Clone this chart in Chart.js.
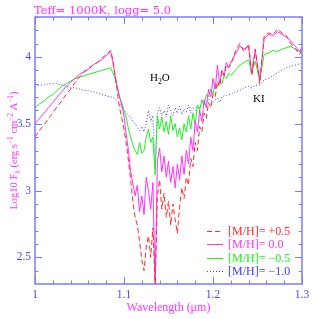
<!DOCTYPE html>
<html>
<head>
<meta charset="utf-8">
<script src="https://cdn.jsdelivr.net/npm/chart.js@4.4.0/dist/chart.umd.min.js"></script>
<style>
  html, body { margin: 0; padding: 0; background: #fff; }
  canvas { display: block; }
</style>
</head>
<body>
<canvas id="myChart" width="319" height="319"></canvas>
<script>
// wavelength grid (micron)
var wave = [
  1.000, 1.005, 1.010, 1.015, 1.020, 1.025, 1.030, 1.035, 1.040, 1.045, 1.050, 1.055, 1.060, 1.065, 1.070, 1.075, 1.080, 1.085,
  1.0875, 1.0900, 1.0925, 1.0950, 1.0975, 1.1000, 1.1025, 1.1050, 1.1075, 1.1100, 1.1125, 1.1150, 1.1175, 1.1200, 1.1225, 1.1250, 1.1275, 1.1300, 1.1325, 1.1350,
  1.1375, 1.1400, 1.1425, 1.1450, 1.1475, 1.1500, 1.1525, 1.1550, 1.1575, 1.1600, 1.1625, 1.1650, 1.1675, 1.1700, 1.1725, 1.1750, 1.1775, 1.1800, 1.1825, 1.1850,
  1.1875, 1.1900, 1.1925, 1.1950, 1.1975, 1.2000, 1.2025, 1.2050, 1.2075, 1.2100, 1.2125, 1.2150, 1.2175,
  1.220, 1.225, 1.230, 1.235, 1.240, 1.2435, 1.2475, 1.2525, 1.2575, 1.2625, 1.2675, 1.2725, 1.2775, 1.2825, 1.2875, 1.2925, 1.2975, 1.300
];

// log10 flux for each metallicity
var fluxP05 = [
  3.40, 3.45, 3.49, 3.54, 3.58, 3.63, 3.67, 3.72, 3.76, 3.81, 3.85, 3.89, 3.91, 3.94, 3.96, 3.99, 4.02, 4.05,
  3.98, 3.86, 3.74, 3.62, 3.54, 3.46, 3.36, 3.22, 3.08, 2.92, 2.80, 2.74, 2.62, 2.48, 2.40, 2.58, 2.66, 2.50, 2.72, 2.28,
  2.95, 3.08, 2.86, 2.98, 2.80, 2.92, 2.74, 2.90, 2.78, 2.68, 2.88, 3.02, 2.94, 3.10, 3.04, 3.24, 3.18, 3.36, 3.30, 3.48,
  3.44, 3.58, 3.54, 3.66, 3.62, 3.72, 3.70, 3.82, 3.78, 3.90, 3.86, 3.94, 3.92,
  3.94, 4.04, 4.10, 4.04, 4.10, 3.86, 4.06, 3.80, 4.16, 4.18, 4.17, 4.21, 4.18, 4.16, 4.10, 4.06, 4.02, 4.06
];
var fluxP00 = [
  3.50, 3.54, 3.58, 3.62, 3.66, 3.70, 3.74, 3.78, 3.81, 3.84, 3.87, 3.89, 3.91, 3.94, 3.96, 3.98, 4.01, 4.04,
  3.96, 3.86, 3.78, 3.70, 3.64, 3.56, 3.42, 3.30, 3.14, 3.05, 2.96, 3.04, 2.84, 2.96, 2.82, 3.10, 3.00, 2.86, 3.06, 2.25,
  3.22, 3.32, 3.14, 3.26, 3.10, 3.22, 3.06, 3.18, 3.02, 3.20, 3.08, 3.26, 3.12, 3.30, 3.20, 3.40, 3.30, 3.52, 3.44, 3.60,
  3.52, 3.68, 3.62, 3.76, 3.70, 3.84, 3.76, 3.94, 3.80, 3.90, 3.86, 3.96, 3.92,
  3.96, 4.02, 4.08, 4.06, 4.08, 3.88, 4.05, 3.83, 4.14, 4.17, 4.16, 4.19, 4.17, 4.15, 4.12, 4.08, 4.04, 4.08
];
var fluxM05 = [
  3.62, 3.65, 3.67, 3.70, 3.72, 3.75, 3.78, 3.80, 3.82, 3.84, 3.85, 3.86, 3.87, 3.88, 3.89, 3.90, 3.91, 3.92,
  3.88, 3.84, 3.76, 3.70, 3.66, 3.60, 3.55, 3.46, 3.40, 3.34, 3.30, 3.27, 3.36, 3.28, 3.30, 3.40, 3.46, 3.36, 3.40, 3.12,
  3.56, 3.46, 3.55, 3.44, 3.52, 3.42, 3.56, 3.45, 3.50, 3.40, 3.47, 3.38, 3.50, 3.44, 3.56, 3.46, 3.58, 3.50, 3.64, 3.60,
  3.68, 3.64, 3.72, 3.70, 3.76, 3.72, 3.80, 3.78, 3.82, 3.80, 3.86, 3.84, 3.88,
  3.86, 3.90, 3.94, 3.96, 3.98, 3.88, 3.97, 3.83, 4.02, 4.03, 4.05, 4.04, 4.06, 4.07, 4.08, 4.06, 4.04, 4.05
];
var fluxM10 = [
  3.78, 3.79, 3.79, 3.80, 3.80, 3.80, 3.79, 3.78, 3.77, 3.77, 3.76, 3.75, 3.75, 3.74, 3.73, 3.72, 3.71, 3.70,
  3.70, 3.69, 3.67, 3.65, 3.62, 3.60, 3.58, 3.56, 3.55, 3.52, 3.50, 3.47, 3.45, 3.48, 3.44, 3.50, 3.60, 3.52, 3.56, 3.18,
  3.58, 3.62, 3.56, 3.60, 3.55, 3.64, 3.60, 3.56, 3.62, 3.58, 3.63, 3.57, 3.61, 3.59, 3.64, 3.58, 3.62, 3.60, 3.64, 3.62,
  3.65, 3.67, 3.66, 3.68, 3.68, 3.66, 3.68, 3.69, 3.66, 3.70, 3.71, 3.71, 3.72,
  3.72, 3.74, 3.75, 3.77, 3.78, 3.77, 3.79, 3.79, 3.83, 3.84, 3.86, 3.88, 3.90, 3.92, 3.93, 3.94, 3.95, 3.95
];

var seriesLabels = ['[M/H]= +0.5', '[M/H]= 0.0', '[M/H]= \u22120.5', '[M/H]= \u22121.0'];
var xTicks = [1, 1.1, 1.2, 1.3];
var yTicks = [2.5, 3, 3.5, 4];

var axisBlue = '#7b7bff';
var textBlue = '#4a4af0';
var pink = '#ff33ff';
var serif = '"Liberation Serif", "DejaVu Serif", serif';
var wideSerif = '"DejaVu Serif", "Liberation Serif", serif';

var colors = ['#ff2a2a', '#ff33ff', '#22ee22', '#3c3cff'];
var dashes = [[5, 3], [], [], [1, 2]];

function points(ys) {
  var out = [];
  for (var i = 0; i < wave.length; i++) {
    out.push({x: wave[i], y: ys[i]});
  }
  return out;
}

var allFlux = [fluxP05, fluxP00, fluxM05, fluxM10];
var datasets = [];
for (var k = 0; k < allFlux.length; k++) {
  datasets.push({
    label: seriesLabels[k],
    data: points(allFlux[k]),
    borderColor: colors[k],
    borderWidth: 1,
    borderDash: dashes[k],
    pointRadius: 0,
    tension: 0,
    fill: false
  });
}

// text with sub/superscripts: parts = [[text, shift]], shift -1 sub, 1 sup
function richWidth(ctx, parts, size, fam) {
  var w = 0;
  parts.forEach(function(p) {
    ctx.font = (p[1] ? size * 0.7 : size) + 'px ' + fam;
    w += ctx.measureText(p[0]).width;
  });
  return w;
}
function drawRich(ctx, parts, x, y, size, fam) {
  parts.forEach(function(p) {
    ctx.font = (p[1] ? size * 0.7 : size) + 'px ' + fam;
    var dy = p[1] === 1 ? -size * 0.4 : (p[1] === -1 ? size * 0.3 : 0);
    ctx.fillText(p[0], x, y + dy);
    x += ctx.measureText(p[0]).width;
  });
}

var decorations = {
  id: 'decorations',
  afterDraw: function(chart) {
    var ctx = chart.ctx;
    var a = chart.chartArea;
    var xs = chart.scales.x, ys = chart.scales.y;
    ctx.save();

    // frame
    ctx.strokeStyle = axisBlue;
    ctx.lineWidth = 1.5;
    ctx.strokeRect(a.left, a.top, a.right - a.left, a.bottom - a.top);

    // inward ticks
    ctx.lineWidth = 1;
    ctx.beginPath();
    for (var i = 0; i <= 15; i++) {
      var v = 1 + i * 0.02;
      var px = Math.round(xs.getPixelForValue(v)) + 0.5;
      var len = (i % 5 === 0) ? 7 : 3.5;
      ctx.moveTo(px, a.bottom); ctx.lineTo(px, a.bottom - len);
      ctx.moveTo(px, a.top); ctx.lineTo(px, a.top + len);
    }
    for (var j = 24; j <= 43; j++) {
      var yv = j / 10;
      var py = Math.round(ys.getPixelForValue(yv)) + 0.5;
      var ylen = (j % 5 === 0) ? 7 : 3.5;
      ctx.moveTo(a.left, py); ctx.lineTo(a.left + ylen, py);
      ctx.moveTo(a.right, py); ctx.lineTo(a.right - ylen, py);
    }
    ctx.stroke();

    // title
    ctx.fillStyle = pink;
    ctx.textBaseline = 'alphabetic';
    ctx.textAlign = 'left';
    ctx.font = '11.5px ' + wideSerif;
    ctx.fillText('Teff= 1000K, logg= 5.0', 34, 14);

    // x title
    var xt = [['Wavelength (', 0], ['\u03bc', 0], ['m)', 0]];
    var w = richWidth(ctx, xt, 12, serif);
    drawRich(ctx, xt, (a.left + a.right) / 2 - w / 2, 311, 12, serif);

    // y title
    ctx.save();
    ctx.translate(17, (a.top + a.bottom) / 2);
    ctx.rotate(-Math.PI / 2);
    var yt = [['Log10 F', 0], ['\u03bb', -1], [' (erg s', 0], ['\u22121', 1], [' cm', 0], ['\u22122', 1], [' A', 0], ['\u22121', 1], [')', 0]];
    var yw = richWidth(ctx, yt, 10.5, serif);
    drawRich(ctx, yt, -yw / 2, 0, 10.5, serif);
    ctx.restore();

    // line identifications
    ctx.fillStyle = '#000';
    drawRich(ctx, [['H', 0], ['2', -1], ['O', 0]], 150, 81, 11, serif);
    ctx.font = '11px ' + serif;
    ctx.fillText('KI', 253, 102);

    // legend
    var rows = [231, 244, 258, 271];
    for (var r = 0; r < rows.length; r++) {
      ctx.strokeStyle = colors[r];
      ctx.setLineDash(dashes[r]);
      ctx.beginPath();
      ctx.moveTo(207, rows[r] + 0.5);
      ctx.lineTo(223, rows[r] + 0.5);
      ctx.stroke();
      ctx.setLineDash([]);
      ctx.fillStyle = colors[r];
      ctx.font = '12px ' + serif;
      ctx.textBaseline = 'middle';
      ctx.fillText(seriesLabels[r], 228, rows[r] + 1);
    }
    ctx.restore();
  }
};

var ctx = document.getElementById('myChart').getContext('2d');
new Chart(ctx, {
  type: 'line',
  data: { datasets: datasets },
  options: {
    responsive: false,
    animation: false,
    layout: { padding: { top: 17, right: 17, left: 0, bottom: 0 } },
    plugins: { legend: { display: false }, tooltip: { enabled: false } },
    scales: {
      x: {
        type: 'linear', min: 1, max: 1.3,
        afterFit: function(s) { s.height = 35; },
        afterBuildTicks: function(s) { s.ticks = xTicks.map(function(v) { return {value: v}; }); },
        ticks: { color: textBlue, font: { family: serif, size: 11.5 }, padding: 4, maxRotation: 0, autoSkip: false,
                 callback: function(v) { return String(v); } },
        grid: { display: false, drawTicks: false },
        border: { display: false }
      },
      y: {
        type: 'linear', min: 2.3, max: 4.3,
        afterFit: function(s) { s.width = 35; },
        afterBuildTicks: function(s) { s.ticks = yTicks.map(function(v) { return {value: v}; }); },
        ticks: { color: textBlue, font: { family: serif, size: 11.5 }, padding: 4, autoSkip: false,
                 callback: function(v) { return String(v); } },
        grid: { display: false, drawTicks: false },
        border: { display: false }
      }
    }
  },
  plugins: [decorations]
});
</script>
</body>
</html>
